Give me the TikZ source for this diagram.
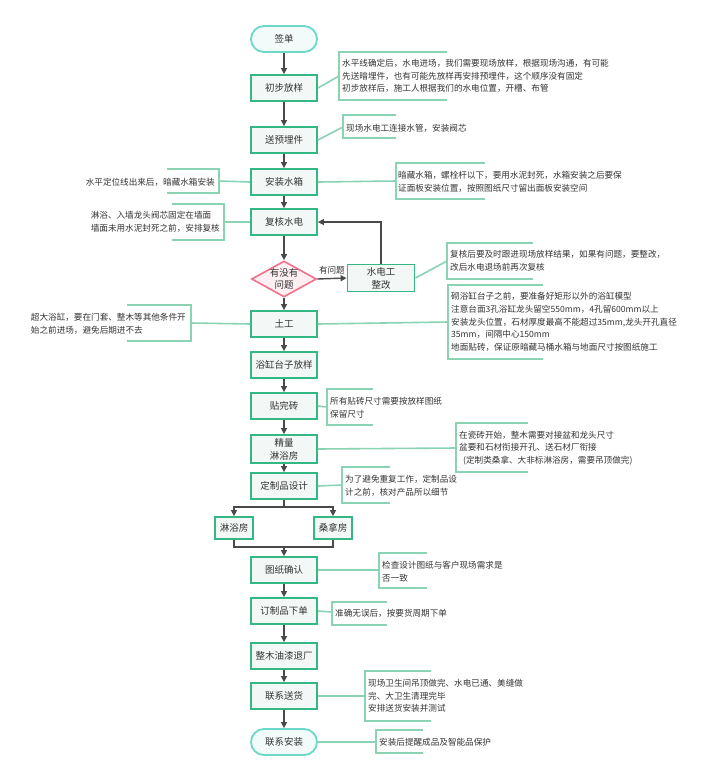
\documentclass[tikz,border=0pt]{standalone}
\usepackage{fontspec}
\setmainfont{Noto Sans CJK SC}
\usetikzlibrary{arrows.meta,shapes.geometric}
\definecolor{boxgreen}{HTML}{33B883}
\definecolor{boxfill}{HTML}{F3F7F5}
\definecolor{notegreen}{HTML}{8AD3B3}
\definecolor{termline}{HTML}{6BD9C8}
\definecolor{termfill}{HTML}{F3FBFA}
\definecolor{askline}{HTML}{F2708C}
\definecolor{askfill}{HTML}{FDEFF2}
\definecolor{flowgray}{HTML}{4A4A4A}
\definecolor{txt}{HTML}{333333}
\tikzset{
  stepbox/.style={draw=boxgreen, fill=boxfill, line width=1.8pt, minimum width=66pt,
    minimum height=26pt, inner sep=1pt, align=center, text=txt,
    font=\fontsize{9.5}{13}\selectfont},
  endbox/.style={stepbox, draw=termline, fill=termfill, rounded corners=13pt},
  ask/.style={diamond, draw=askline, fill=askfill, line width=1.6pt, aspect=1.8,
    inner sep=0pt, align=center, text=txt, font=\fontsize{9.5}{11.5}\selectfont},
  flow/.style={draw=flowgray, line width=1.4pt, -{Triangle[length=6pt,width=6pt]}},
  link/.style={draw=notegreen, line width=1.6pt},
  note/.style={inner sep=0pt, align=left, text=txt, font=\fontsize{8.6}{12.7}\selectfont}
}
\begin{document}
\begin{tikzpicture}[x=1pt,y=-1pt]
  \useasboundingbox (0,0) rectangle (720,780);

  % main column
  \node[endbox]  (sign) at (284,39)  {签单};
  \node[stepbox] (lay)  at (284,88)  {初步放样};
  \node[stepbox] (emb)  at (284,140) {送预埋件};
  \node[stepbox] (tank) at (284,182) {安装水箱};
  \node[stepbox] (chk)  at (284,222) {复核水电};
  \node[ask]     (ask)  at (284,279) {有没有\\问题};
  \node[stepbox, minimum width=67pt, minimum height=27pt] (fix) at (381,278) {水电工\\整改};
  \node[stepbox] (civ)  at (284,324) {土工};
  \node[stepbox] (tub)  at (284,365) {浴缸台子放样};
  \node[stepbox] (tile) at (284,406) {贴完砖};
  \node[stepbox, minimum height=28pt] (meas) at (284,449) {精量\\淋浴房};
  \node[stepbox] (cust) at (284,486) {定制品设计};
  \node[stepbox, minimum width=38pt, minimum height=22pt] (shw) at (234,528) {淋浴房};
  \node[stepbox, minimum width=38pt, minimum height=22pt] (sau) at (333,528) {桑拿房};
  \node[stepbox] (dwg)  at (284,570) {图纸确认};
  \node[stepbox] (ord)  at (284,611) {订制品下单};
  \node[stepbox] (wood) at (284,656) {整木油漆退厂};
  \node[stepbox] (dlv)  at (284,696) {联系送货};
  \node[endbox]  (inst) at (284,742) {联系安装};

  % flow arrows
  \draw[flow] (sign) -- (lay);
  \draw[flow] (lay) -- (emb);
  \draw[flow] (emb) -- (tank);
  \draw[flow] (tank) -- (chk);
  \draw[flow] (chk) -- (ask);
  \draw[flow] (ask.east) -- (fix.west) node[note, midway, above=4pt] {有问题};
  \draw[flow] (fix.north) |- (chk.east);
  \draw[flow] (ask) -- (civ);
  \draw[flow] (civ) -- (tub);
  \draw[flow] (tub) -- (tile);
  \draw[flow] (tile) -- (meas);
  \draw[flow] (meas) -- (cust);
  \coordinate (split) at (284,507);
  \coordinate (merge) at (284,547);
  \draw[flow] (cust.south) -- (split) -| (shw.north);
  \draw[flow] (split) -| (sau.north);
  \draw[draw=flowgray, line width=1.4pt] (shw.south) |- (merge) -| (sau.south);
  \draw[flow] (merge) -- (dwg.north);
  \draw[flow] (dwg) -- (ord);
  \draw[flow] (ord) -- (wood);
  \draw[flow] (wood) -- (dlv);
  \draw[flow] (dlv) -- (inst);

  % notes on the right
  \draw[link] (447,52) -| (339,100) -- (447,100);
  \coordinate (a1) at (339,76);
  \node[note, anchor=west] (t1) at (342,76) {水平线确定后，水电进场，我们需要现场放样，根据现场沟通，有可能\\先送暗埋件，也有可能先放样再安排预埋件，这个顺序没有固定\\初步放样后，施工人根据我们的水电位置，开槽、布管};
  \draw[link] (lay.east) -- (a1);

  \draw[link] (396,115) -| (343,138) -- (396,138);
  \coordinate (a2) at (343,127);
  \node[note, anchor=west] (t2) at (346,128) {现场水电工连接水管，安装阀芯};
  \draw[link] (emb.east) -- (a2);

  \draw[link] (485,163) -| (396,199) -- (485,199);
  \coordinate (a3) at (396,181);
  \node[note, anchor=west] (t3) at (398,182) {暗藏水箱，螺栓杆以下，要用水泥封死，水箱安装之后要保\\证面板安装位置，按照图纸尺寸留出面板安装空间};
  \draw[link] (tank.east) -- (a3);

  \draw[link] (533,243) -| (447,279) -- (533,279);
  \coordinate (a4) at (447,261);
  \node[note, anchor=west] (t4) at (450,261) {复核后要及时跟进现场放样结果，如果有问题，要整改，\\改后水电退场前再次复核};
  \draw[link] (fix.east) -- (a4);

  \draw[link] (543,285) -| (448,359) -- (543,359);
  \coordinate (a5) at (448,322);
  \node[note, anchor=west] (t5) at (451,322) {砌浴缸台子之前，要准备好矩形以外的浴缸模型\\注意台面3孔浴缸龙头留空550mm，4孔留600mm以上\\安装龙头位置，石材厚度最高不能超过35mm,龙头开孔直径\\35mm，间隔中心150mm\\地面贴砖，保证原暗藏马桶水箱与地面尺寸按图纸施工};
  \draw[link] (civ.east) -- (a5);

  \draw[link] (373,389) -| (327,425) -- (373,425);
  \coordinate (a6) at (327,407);
  \node[note, anchor=west] (t6) at (330,408) {所有贴砖尺寸需要按放样图纸\\保留尺寸};
  \draw[link] (tile.east) -- (a6);

  \draw[link] (528,423) -| (456,472) -- (528,472);
  \coordinate (a7) at (456,448);
  \node[note, anchor=west] (t7) at (459,448) {在瓷砖开始，整木需要对接盆和龙头尺寸\\盆要和石材衔接开孔、送石材厂衔接\\\hspace{4pt}(定制类桑拿、大非标淋浴房，需要吊顶做完)};
  \draw[link] (meas.east) -- (a7);

  \draw[link] (390,467) -| (342,503) -- (390,503);
  \coordinate (a8) at (342,485);
  \node[note, anchor=west] (t8) at (345,486) {为了避免重复工作，定制品设\\计之前，核对产品所以细节};
  \draw[link] (cust.east) -- (a8);

  \draw[link] (427,553) -| (379,588) -- (427,588);
  \coordinate (a9) at (379,570);
  \node[note, anchor=west] (t9) at (382,572) {检查设计图纸与客户现场需求是\\否一致};
  \draw[link] (dwg.east) -- (a9);

  \draw[link] (387,602) -| (332,625) -- (387,625);
  \coordinate (a10) at (332,612);
  \node[note, anchor=west] (t10) at (335,613) {准确无误后，按要货周期下单};
  \draw[link] (ord.east) -- (a10);

  \draw[link] (431,671) -| (365,721) -- (431,721);
  \coordinate (a11) at (365,696);
  \node[note, anchor=west] (t11) at (368,696) {现场卫生间吊顶做完、水电已通、美缝做\\完、大卫生清理完毕\\安排送货安装并测试};
  \draw[link] (dlv.east) -- (a11);

  \draw[link] (423,730) -| (376,753) -- (423,753);
  \coordinate (a12) at (376,742);
  \node[note, anchor=west] (t12) at (379,742) {安装后提醒成品及智能品保护};
  \draw[link] (inst.east) -- (a12);

  % notes on the left
  \draw[link] (167,169) -| (219,193) -- (167,193);
  \coordinate (b1) at (219,181);
  \node[note, anchor=east] (u1) at (215,182) {水平定位线出来后，暗藏水箱安装};
  \draw[link] (b1) -- (tank.west);

  \draw[link] (172,204) -| (224,240) -- (172,240);
  \coordinate (b2) at (224,222);
  \node[note, anchor=east] (u2) at (220,222) {淋浴、入墙龙头阀芯固定在墙面\\墙面未用水泥封死之前，安排复核};
  \draw[link] (b2) -- (chk.west);

  \draw[link] (127,305) -| (191,341) -- (127,341);
  \coordinate (b3) at (191,323);
  \node[note, anchor=east] (u3) at (186,324) {超大浴缸，要在门套、整木等其他条件开\\始之前进场，避免后期进不去};
  \draw[link] (b3) -- (civ.west);
\end{tikzpicture}
\end{document}
